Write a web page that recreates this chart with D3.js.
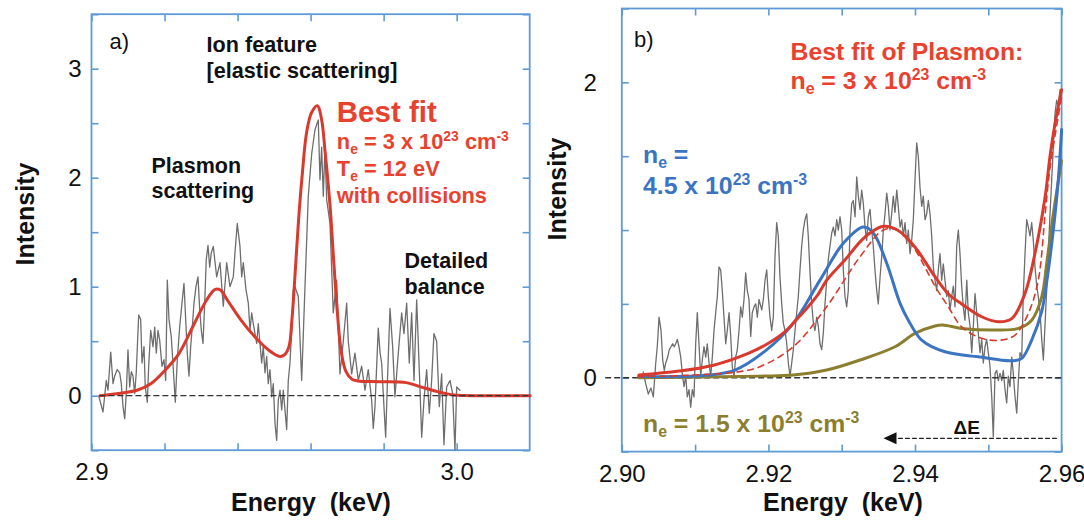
<!DOCTYPE html>
<html><head><meta charset="utf-8">
<script src="https://cdn.jsdelivr.net/npm/d3@7"></script>
<style>
body{margin:0;background:#fff;}
svg{display:block;font-family:"Liberation Sans",Arial,Helvetica,sans-serif;}
text{white-space:pre;}
</style></head><body>
<svg id="chart" width="1084" height="524"></svg>
<script>
// ---------- Panel a data ----------
const aDomainX = [2.9, 3.02];
const aDomainY = [-0.5, 3.5];
const aXTicks = [2.9, 2.92, 2.94, 2.96, 2.98, 3.0];
const aXLabels = {"2.9":"2.9","3":"3.0"};
const aYTicks = [-0.5, 0, 0.5, 1, 1.5, 2, 2.5, 3, 3.5];
const aYLabels = [0, 1, 2, 3];
const aData = [[2.90205,-0.01],[2.90315,-0.15],[2.90405,0.14],[2.90452,0.05],[2.90526,0.40],[2.90589,0.11],[2.90635,0.18],[2.90706,0.24],[2.90772,0.21],[2.90816,0.11],[2.90863,-0.10],[2.90909,-0.21],[2.90953,0.02],[2.90999,0.42],[2.91046,0.08],[2.91090,0.22],[2.91136,0.18],[2.91183,0.02],[2.91227,0.22],[2.91292,0.74],[2.91347,0.70],[2.91383,0.30],[2.91438,0.45],[2.91473,0.08],[2.91528,-0.06],[2.91566,0.27],[2.91621,0.60],[2.91684,0.45],[2.91731,0.63],[2.91774,0.39],[2.91821,0.60],[2.91867,0.51],[2.91930,0.27],[2.91985,0.33],[2.92032,0.14],[2.92076,1.06],[2.92122,0.70],[2.92185,0.54],[2.92259,0.14],[2.92295,-0.06],[2.92349,0.33],[2.92415,0.63],[2.92478,0.85],[2.92533,1.03],[2.92579,0.70],[2.92623,0.39],[2.92670,0.18],[2.92716,0.45],[2.92760,0.63],[2.92807,0.85],[2.92861,1.00],[2.92916,1.09],[2.92963,0.79],[2.93007,0.60],[2.93053,0.48],[2.93100,0.85],[2.93143,1.25],[2.93190,1.38],[2.93237,1.18],[2.93280,1.31],[2.93335,1.37],[2.93428,1.09],[2.93519,1.22],[2.93609,0.82],[2.93702,1.22],[2.93792,1.00],[2.93883,1.09],[2.93929,1.31],[2.93992,1.58],[2.94066,1.37],[2.94113,1.09],[2.94157,1.22],[2.94231,0.97],[2.94294,0.85],[2.94340,0.60],[2.94387,0.76],[2.94430,0.66],[2.94524,0.48],[2.94567,0.66],[2.94614,0.48],[2.94660,0.30],[2.94704,0.45],[2.94751,0.21],[2.94797,0.36],[2.94841,0.11],[2.94888,0.24],[2.94934,-0.01],[2.94978,0.11],[2.95025,-0.25],[2.95071,-0.41],[2.95115,-0.04],[2.95162,0.05],[2.95208,-0.13],[2.95252,0.05],[2.95298,-0.13],[2.95345,-0.31],[2.95389,0.14],[2.95435,0.30],[2.95482,0.60],[2.95526,0.97],[2.95572,1.00],[2.95663,0.91],[2.95756,0.14],[2.95846,1.00],[2.95936,1.83],[2.96030,2.22],[2.96120,2.44],[2.96210,2.53],[2.96257,1.98],[2.96303,2.28],[2.96347,1.83],[2.96394,2.28],[2.96440,1.80],[2.96531,1.58],[2.96621,0.76],[2.96714,1.06],[2.96804,0.20],[2.96895,0.50],[2.96988,0.85],[2.97032,0.50],[2.97125,0.20],[2.97215,0.39],[2.97306,0.14],[2.97399,0.27],[2.97489,0.05],[2.97579,0.24],[2.97672,-0.04],[2.97716,-0.30],[2.97763,-0.10],[2.97853,0.62],[2.97900,0.40],[2.97946,0.30],[2.98009,-0.10],[2.98056,-0.38],[2.98105,0.14],[2.98174,0.80],[2.98247,0.45],[2.98310,-0.01],[2.98401,0.39],[2.98494,0.76],[2.98557,0.57],[2.98631,0.85],[2.98702,0.30],[2.98768,0.76],[2.98831,0.14],[2.98905,0.88],[2.98976,0.24],[2.99042,-0.38],[2.99105,-0.04],[2.99178,0.24],[2.99250,-0.16],[2.99315,0.14],[2.99378,0.57],[2.99452,0.50],[2.99524,-0.10],[2.99589,0.20],[2.99652,-0.45],[2.99726,0.08],[2.99817,0.14],[2.99890,0.02],[2.99953,-0.50],[3.00000,0.08],[3.00090,0.05]];
const aFit = [[2.90230,0],[2.90794,0.022],[2.91265,0.052],[2.91643,0.114],[2.92021,0.236],[2.92399,0.389],[2.92774,0.633],[2.93152,0.878],[2.93387,0.976],[2.93530,0.97],[2.93719,0.878],[2.94094,0.694],[2.94472,0.541],[2.94849,0.419],[2.95162,0.36],[2.95298,0.38],[2.95408,0.45],[2.95490,0.70],[2.95572,1.10],[2.95668,1.60],[2.95764,2.00],[2.95893,2.42],[2.96030,2.60],[2.96188,2.66],[2.96303,2.53],[2.96394,2.25],[2.96531,1.75],[2.96640,1.20],[2.96736,0.75],[2.96832,0.42],[2.96969,0.22],[2.97133,0.15],[2.97297,0.135],[2.97867,0.128],[2.98620,0.12],[2.98998,0.083],[2.99469,0.037],[2.99940,0.006],[3.00695,0],[3.02015,0]];
const aZero = [2.9023, 3.02];

// ---------- Panel b data ----------
const bDomainX = [2.90, 2.96];
const bDomainY = [-0.5, 2.5];
const bXTicks = [2.90, 2.91, 2.92, 2.93, 2.94, 2.95, 2.96];
const bXLabels = {"2.9":"2.90","2.92":"2.92","2.94":"2.94","2.96":"2.96"};
const bYTicks = [-0.5, 0, 0.5, 1, 1.5, 2, 2.5];
const bYLabels = [0, 2];
const bData = [[2.90293,0.04],[2.90326,-0.04],[2.90362,-0.11],[2.90398,-0.07],[2.90430,-0.13],[2.90463,0.10],[2.90484,0.21],[2.90508,0.41],[2.90535,0.32],[2.90558,0.12],[2.90580,0.05],[2.90599,0.10],[2.90626,0.14],[2.90648,0.19],[2.90671,0.21],[2.90694,0.23],[2.90716,0.21],[2.90735,0.23],[2.90757,0.26],[2.90780,0.21],[2.90804,0.14],[2.90825,0.03],[2.90849,-0.06],[2.90872,0.01],[2.90894,-0.13],[2.90917,-0.08],[2.90940,-0.20],[2.90962,-0.08],[2.90985,-0.13],[2.91008,0.23],[2.91030,0.44],[2.91053,0.23],[2.91076,0.01],[2.91098,0.12],[2.91121,0.21],[2.91145,0.14],[2.91166,0.23],[2.91190,0.10],[2.91213,0.01],[2.91235,0.14],[2.91258,0.32],[2.91281,0.44],[2.91303,0.55],[2.91326,0.75],[2.91349,0.73],[2.91371,0.59],[2.91394,0.41],[2.91418,0.23],[2.91439,0.32],[2.91463,0.44],[2.91486,0.28],[2.91508,0.07],[2.91531,0.01],[2.91554,0.14],[2.91576,0.19],[2.91599,0.32],[2.91622,0.48],[2.91644,0.41],[2.91667,0.53],[2.91690,0.71],[2.91712,0.59],[2.91735,0.53],[2.91759,0.28],[2.91780,0.44],[2.91804,0.48],[2.91827,0.50],[2.91849,0.41],[2.91872,0.53],[2.91909,0.46],[2.91931,0.53],[2.91954,0.66],[2.91977,0.73],[2.91999,0.55],[2.92022,0.41],[2.92045,0.32],[2.92067,0.41],[2.92090,0.82],[2.92113,1.05],[2.92135,0.96],[2.92158,0.68],[2.92182,0.50],[2.92203,0.37],[2.92227,0.32],[2.92250,0.23],[2.92272,0.10],[2.92295,0.01],[2.92318,0.10],[2.92340,0.19],[2.92363,0.32],[2.92386,0.44],[2.92408,0.55],[2.92431,0.73],[2.92454,0.89],[2.92476,1.00],[2.92499,1.07],[2.92523,1.11],[2.92544,0.96],[2.92568,0.71],[2.92591,0.50],[2.92613,0.37],[2.92636,0.32],[2.92659,0.41],[2.92681,0.35],[2.92704,0.23],[2.92727,0.19],[2.92749,0.30],[2.92772,0.50],[2.92795,0.66],[2.92817,0.80],[2.92840,0.89],[2.92864,0.98],[2.92886,1.02],[2.92909,0.96],[2.92932,1.07],[2.92954,1.00],[2.92977,1.09],[2.93000,1.00],[2.93022,0.73],[2.93045,0.55],[2.93068,0.48],[2.93090,0.59],[2.93113,1.00],[2.93137,1.18],[2.93158,1.20],[2.93182,1.09],[2.93205,1.36],[2.93227,1.23],[2.93250,1.14],[2.93273,1.27],[2.93295,1.18],[2.93318,1.02],[2.93341,0.93],[2.93363,1.09],[2.93386,1.14],[2.93409,1.00],[2.93431,0.89],[2.93454,0.73],[2.93478,0.59],[2.93499,0.50],[2.93523,0.68],[2.93546,0.82],[2.93568,1.00],[2.93591,1.11],[2.93614,1.25],[2.93636,1.16],[2.93659,1.00],[2.93682,1.11],[2.93704,1.23],[2.93727,1.12],[2.93751,1.27],[2.93772,1.16],[2.93796,1.02],[2.93819,1.07],[2.93841,0.96],[2.93864,1.05],[2.93887,0.91],[2.93909,1.00],[2.93932,0.84],[2.93955,0.93],[2.93977,1.07],[2.94000,1.34],[2.94023,1.59],[2.94045,1.50],[2.94068,1.29],[2.94092,1.16],[2.94113,1.23],[2.94137,1.07],[2.94160,1.11],[2.94182,1.20],[2.94205,1.11],[2.94228,0.96],[2.94250,0.75],[2.94273,0.66],[2.94296,0.59],[2.94318,0.73],[2.94341,0.84],[2.94364,0.66],[2.94386,0.77],[2.94409,0.66],[2.94433,0.55],[2.94454,0.59],[2.94478,0.46],[2.94501,0.55],[2.94523,0.62],[2.94546,0.48],[2.94569,0.89],[2.94591,1.00],[2.94614,0.84],[2.94637,0.62],[2.94659,0.48],[2.94682,0.39],[2.94706,0.66],[2.94727,0.44],[2.94751,0.35],[2.94774,0.17],[2.94796,0.35],[2.94819,0.57],[2.94842,0.44],[2.94864,0.30],[2.94887,0.17],[2.94910,0.26],[2.94932,0.10],[2.94955,0.21],[2.94978,0.26],[2.95000,0.17],[2.95023,0.08],[2.95047,-0.13],[2.95068,-0.40],[2.95092,0.03],[2.95115,0.05],[2.95137,-0.02],[2.95160,0.03],[2.95183,-0.02],[2.95205,0.05],[2.95228,-0.08],[2.95251,-0.17],[2.95273,0.01],[2.95296,-0.06],[2.95320,0.14],[2.95341,0.03],[2.95365,-0.13],[2.95388,-0.24],[2.95410,-0.02],[2.95433,0.17],[2.95456,0.14],[2.95478,0.57],[2.95501,0.84],[2.95524,1.07],[2.95546,1.02],[2.95569,0.96],[2.95592,1.05],[2.95614,0.93],[2.95637,0.75],[2.95661,0.62],[2.95682,0.55],[2.95706,0.44],[2.95729,0.26],[2.95751,0.12],[2.95797,0.60],[2.95842,1.11],[2.95887,1.56],[2.95910,1.79],[2.95933,1.88],[2.95955,1.84],[2.95978,1.95]];
const bRed = [[2.90233,0.018],[2.90778,0.045],[2.91251,0.085],[2.91725,0.165],[2.91954,0.22],[2.92198,0.30],[2.92340,0.37],[2.92671,0.56],[2.92795,0.66],[2.93049,0.80],[2.93250,0.92],[2.93386,0.98],[2.93570,1.025],[2.93760,1.0],[2.93996,0.887],[2.94273,0.684],[2.94469,0.56],[2.94637,0.50],[2.94910,0.413],[2.95137,0.379],[2.95320,0.40],[2.95501,0.571],[2.95637,0.842],[2.95774,1.22],[2.95842,1.5],[2.95910,1.72],[2.96,1.95]];
const bRedDash = [[2.90221,0.007],[2.90954,0.018],[2.91585,0.04],[2.91885,0.075],[2.92340,0.21],[2.92795,0.481],[2.93250,0.819],[2.93568,1.0],[2.93760,1.0],[2.93996,0.87],[2.94273,0.62],[2.94454,0.481],[2.94637,0.345],[2.94910,0.267],[2.95183,0.255],[2.95365,0.289],[2.95546,0.436],[2.95682,0.661],[2.95774,1.1],[2.95842,1.42],[2.96,1.9]];
const bBlue = [[2.90233,0.01],[2.90498,0.007],[2.91180,0.018],[2.91544,0.052],[2.91954,0.18],[2.92340,0.368],[2.92704,0.661],[2.93022,0.91],[2.93295,1.02],[2.93431,0.98],[2.93614,0.775],[2.93796,0.504],[2.93909,0.39],[2.94091,0.255],[2.94409,0.176],[2.94864,0.142],[2.95320,0.115],[2.95456,0.131],[2.95592,0.255],[2.95729,0.45],[2.95797,0.65],[2.95887,1.0],[2.95955,1.34],[2.96,1.68]];
const bOlive = [[2.90233,0.0],[2.91885,0.011],[2.92340,0.018],[2.92795,0.052],[2.93250,0.12],[2.93727,0.21],[2.94000,0.30],[2.94273,0.35],[2.94375,0.357],[2.94637,0.334],[2.95092,0.323],[2.95410,0.334],[2.95592,0.39],[2.95729,0.548],[2.95797,0.775],[2.95887,1.11],[2.96,1.47]];
const bZero = [2.8978, 2.96];
const bArrowE = [2.9593, 2.9357];
const bArrowI = -0.41;

// ---------- styling ----------
const FRAME = '#5e9bd6', RED = '#d83a2d', TRED = '#e8422f', BLUE = '#3a74c2', OLIVE = '#8b7f2f', GRAY = '#6e6e6e', INK = '#111';
const svg = d3.select('#chart');

function drawPanel(o) {
  const x = d3.scaleLinear().domain(o.dx).range(o.rx);
  const y = d3.scaleLinear().domain(o.dy).range(o.ry);
  const g = svg.append('g');
  const fmtX = d => (o.xLabels[String(+d.toFixed(4))] || '');
  const fmtY = d => (o.yLabels.includes(d) ? String(d) : '');
  const styleAxis = sel => {
    sel.select('.domain').remove();
    sel.selectAll('.tick line').attr('stroke', FRAME).attr('stroke-width', 1.6);
    sel.selectAll('.tick text').attr('fill', INK).attr('font-size', 24)
      .attr('font-family', '"Liberation Sans",Arial,Helvetica,sans-serif');
  };
  g.append('g').attr('transform', `translate(0,${o.ry[0]})`)
    .call(d3.axisBottom(x).tickValues(o.xTicks).tickSize(-7).tickPadding(13).tickFormat(fmtX)).call(styleAxis);
  g.append('g').attr('transform', `translate(0,${o.ry[1]})`)
    .call(d3.axisTop(x).tickValues(o.xTicks).tickSize(-7).tickFormat('')).call(styleAxis);
  g.append('g').attr('transform', `translate(${o.rx[0]},0)`)
    .call(d3.axisLeft(y).tickValues(o.yTicks).tickSize(-7).tickPadding(o.yPad).tickFormat(fmtY)).call(styleAxis);
  g.append('g').attr('transform', `translate(${o.rx[1]},0)`)
    .call(d3.axisRight(y).tickValues(o.yTicks).tickSize(-7).tickFormat('')).call(styleAxis);
  g.append('rect').attr('x', o.rx[0]).attr('y', o.ry[1])
    .attr('width', o.rx[1] - o.rx[0]).attr('height', o.ry[0] - o.ry[1])
    .attr('fill', 'none').attr('stroke', FRAME).attr('stroke-width', 1.8);
  return {x, y, g};
}

function line(g, x, y, data, color, width, dash, curve) {
  g.append('path').datum(data)
    .attr('d', d3.line().x(d => x(d[0])).y(d => y(d[1])).curve(curve || d3.curveLinear))
    .attr('fill', 'none').attr('stroke', color).attr('stroke-width', width)
    .attr('stroke-linejoin', 'round').attr('stroke-linecap', 'round')
    .attr('stroke-dasharray', dash || null);
}

function txt(x, y, s, size, color, weight) {
  return svg.append('text').attr('x', x).attr('y', y).attr('font-size', size)
    .attr('fill', color).attr('font-weight', weight || 'bold').text(s);
}

function rich(x, y, parts, size, color) {
  const t = svg.append('text').attr('x', x).attr('y', y).attr('font-size', size)
    .attr('fill', color).attr('font-weight', 'bold');
  let shift = 0;
  parts.forEach(([s, type]) => {
    const target = type === 'sup' ? -0.36 * size : type === 'sub' ? 0.22 * size : 0;
    t.append('tspan').attr('dy', target - shift)
      .attr('font-size', type === 'n' ? size : size * 0.64).text(s);
    shift = target;
  });
  return t;
}
const neParts = (v) => [['n','n'],['e','sub'],[' = ' + v + ' x 10','n'],['23','sup'],[' cm','n'],['-3','sup']];

// ---------- Panel a ----------
const A = drawPanel({dx: aDomainX, dy: aDomainY, rx: [91.5, 529.7], ry: [450.2, 14.2],
  xTicks: aXTicks, yTicks: aYTicks, xLabels: aXLabels, yLabels: aYLabels, yPad: 10});
line(A.g, A.x, A.y, aData, GRAY, 1.3);
line(A.g, A.x, A.y, aFit, RED, 3, null, d3.curveCatmullRom.alpha(0.5));
line(A.g, A.x, A.y, aZero.map(e => [e, 0]), '#333', 1.3, '5,4');

txt(109.5, 49, 'a)', 22, INK, 'normal');
txt(206.6, 52, 'Ion feature', 21.6, INK);
txt(206.6, 78, '[elastic scattering]', 21.6, INK);
txt(336.8, 122, 'Best fit', 29.5, TRED);
rich(336.8, 149, neParts('3'), 21.8, TRED);
rich(336.8, 176, [['T','n'],['e','sub'],[' = 12 eV','n']], 21.8, TRED);
txt(336.8, 203, 'with collisions', 21.8, TRED);
txt(151.5, 173, 'Plasmon', 21.5, INK);
txt(151.5, 198, 'scattering', 21.5, INK);
txt(404.6, 268, 'Detailed', 21.5, INK);
txt(404.6, 294, 'balance', 21.5, INK);
txt(311, 511, 'Energy  (keV)', 25, INK).attr('text-anchor', 'middle');
txt(0, 0, 'Intensity', 25, INK).attr('text-anchor', 'middle')
  .attr('transform', 'translate(34,214) rotate(-90)');

// ---------- Panel b ----------
const B = drawPanel({dx: bDomainX, dy: bDomainY, rx: [621.8, 1061.6], ry: [451.6, 8.5],
  xTicks: bXTicks, yTicks: bYTicks, xLabels: bXLabels, yLabels: bYLabels, yPad: 25});
line(B.g, B.x, B.y, bData, GRAY, 1.3);
line(B.g, B.x, B.y, bZero.map(e => [e, 0]), '#333', 1.3, '5,4');
line(B.g, B.x, B.y, bOlive, OLIVE, 3, null, d3.curveCatmullRom.alpha(0.5));
line(B.g, B.x, B.y, bBlue, BLUE, 3, null, d3.curveCatmullRom.alpha(0.5));
line(B.g, B.x, B.y, bRedDash, RED, 1.6, '6,5', d3.curveCatmullRom.alpha(0.5));
line(B.g, B.x, B.y, bRed, RED, 3, null, d3.curveCatmullRom.alpha(0.5));
// ΔE arrow
line(B.g, B.x, B.y, [[bArrowE[0], bArrowI], [bArrowE[1] + 0.0014, bArrowI]], '#222', 1.3, '4,3');
{
  const tx = B.x(bArrowE[1]), ty = B.y(bArrowI);
  B.g.append('path').attr('d', `M${tx},${ty} L${tx + 13},${ty - 6} L${tx + 13},${ty + 6} Z`).attr('fill', '#111');
}

txt(634, 47, 'b)', 22, INK, 'normal');
txt(790.5, 60, 'Best fit of Plasmon:', 24.8, TRED);
rich(790.5, 89, neParts('3'), 24.8, TRED);
rich(643, 163, [['n','n'],['e','sub'],[' =','n']], 24.8, BLUE);
rich(643, 194, [['4.5 x 10','n'],['23','sup'],[' cm','n'],['-3','sup']], 24.8, BLUE);
rich(643, 432, neParts('1.5'), 24.8, OLIVE);
txt(953.6, 434, 'ΔE', 19, INK);
txt(843, 511, 'Energy  (keV)', 25, INK).attr('text-anchor', 'middle');
txt(0, 0, 'Intensity', 25, INK).attr('text-anchor', 'middle')
  .attr('transform', 'translate(566,189) rotate(-90)');
</script>
</body></html>
